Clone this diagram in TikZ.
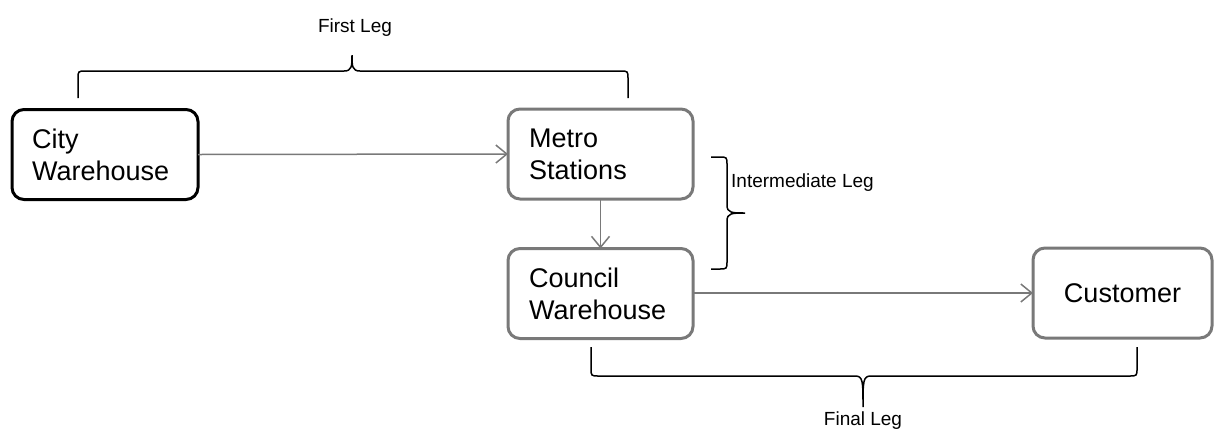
\documentclass[tikz,border=0pt]{standalone}
\usepackage{fontspec}
\setmainfont{Liberation Sans}
\usetikzlibrary{arrows.meta}
\begin{document}
\begin{tikzpicture}[x=1pt,y=-1pt,
  box/.style={draw=gray!95!black, line width=3pt, rounded corners=12pt, fill=white,
    minimum width=#1, minimum height=90pt, inner sep=0pt, outer sep=0pt},
  box/.default=185pt,
  lbl/.style={font=\fontsize{27}{32}\selectfont, align=left, anchor=west, inner sep=0pt},
  conn/.style={draw=gray!95!black, line width=1.5pt, -{Straight Barb[length=11pt,width=18pt,line width=1.5pt]}},
  brc/.style={draw=black, line width=1.5pt},
  small/.style={font=\fontsize{19}{22}\selectfont, inner sep=0pt}]
\useasboundingbox (0,0) rectangle (1215,432);
% boxes
\node[box=186pt, draw=black] (city) at (105,154.5) {};
\node[lbl] (citylbl) at (32,154.5) {City\\Warehouse};
\node[box] (metro) at (600.5,154) {};
\node[lbl] (metrolbl) at (529,154) {Metro\\Stations};
\node[box] (council) at (600.5,293.5) {};
\node[lbl] (councillbl) at (529,293.5) {Council\\Warehouse};
\node[box=179pt] (cust) at (1122.5,293) {};
\node[font=\fontsize{27}{32}\selectfont, inner sep=0pt] (custlbl) at (1122.5,293) {Customer};
% connectors
\draw[conn] (city.east) -- (metro.west);
\draw[conn] (metro.south) -- (council.north);
\draw[conn] (council.east |- cust.west) -- (cust.west);
% braces
\coordinate (a1) at (78,98);
\coordinate (a2) at (628,98);
\coordinate (atip) at (352,55);
\draw[brc] (a1) -- (78,79) .. controls (78,71) .. (86,71) -- (344,71)
  .. controls (352,71) and (352,66) .. (atip) .. controls (352,66) and (352,71) .. (360,71)
  -- (620,71) .. controls (628,71) .. (628,79) -- (a2);
\node[small] (first) at (355,28) {First Leg};
\coordinate (b1) at (711,157);
\coordinate (b2) at (711,269);
\coordinate (btip) at (745,213);
\draw[brc] (b1) -- (719,157) .. controls (727,157) .. (727,165) -- (727,205)
  .. controls (727,213) and (732,213) .. (btip) .. controls (732,213) and (727,213) .. (727,221)
  -- (727,261) .. controls (727,269) .. (719,269) -- (b2);
\node[small, anchor=west] (inter) at (731,183) {Intermediate Leg};
\coordinate (c1) at (591,347);
\coordinate (c2) at (1137,347);
\coordinate (ctip) at (863,407);
\draw[brc] (c1) -- (591,368) .. controls (591,376) .. (599,376) -- (855,376)
  .. controls (863,376) and (863,381) .. (ctip) .. controls (863,381) and (863,376) .. (871,376)
  -- (1129,376) .. controls (1137,376) .. (1137,368) -- (c2);
\node[small] (final) at (863,421) {Final Leg};
\end{tikzpicture}
\end{document}
